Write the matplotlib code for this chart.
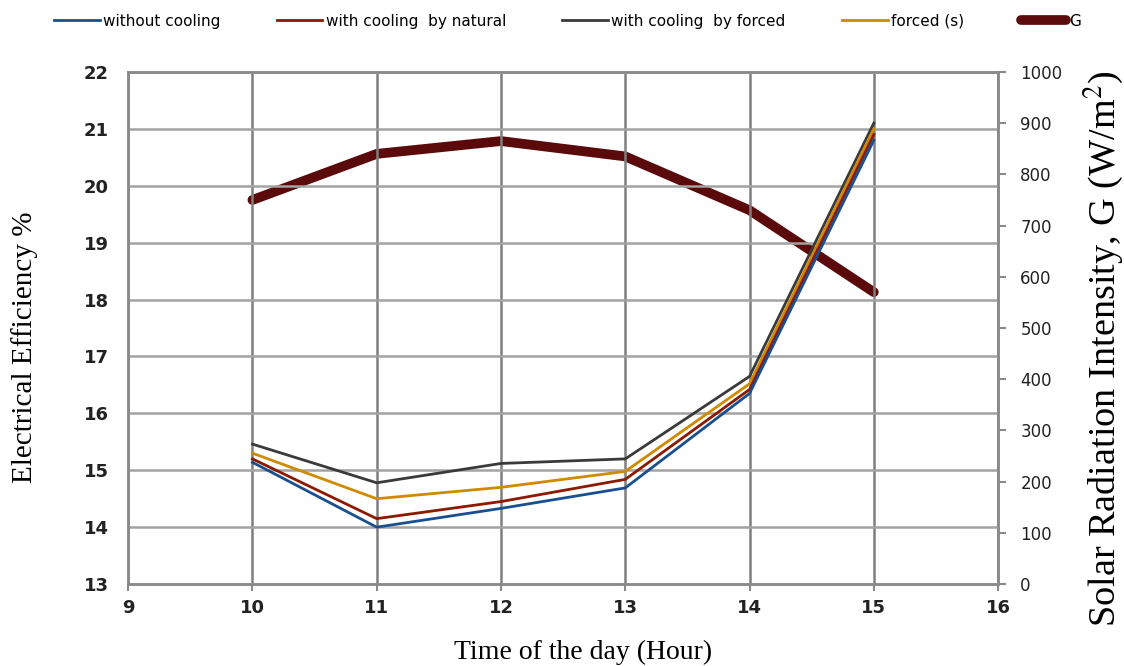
import numpy as np
import matplotlib
matplotlib.use('Agg')
import matplotlib.pyplot as plt

plt.rcParams['mathtext.fontset'] = 'stix'

hours = [10, 11, 12, 13, 14, 15]
without_cooling = [15.14, 14.00, 14.33, 14.69, 16.35, 20.80]
natural = [15.20, 14.15, 14.45, 14.84, 16.42, 20.90]
forced = [15.46, 14.78, 15.12, 15.20, 16.65, 21.10]
forced_s = [15.30, 14.50, 14.70, 14.98, 16.52, 21.00]
radiation = [750, 840, 865, 835, 730, 570]

grid_col = '#8a8a8a'

fig = plt.figure(figsize=(11.24, 6.66), dpi=100, facecolor='white')
ax = fig.add_axes([0.114, 0.123, 0.774, 0.769])
ax2 = ax.twinx()

ax.plot(hours, forced, color='#3a3a3a', lw=2, label='with cooling  by forced', zorder=3)
ax.plot(hours, forced_s, color='#d08a00', lw=2, label='forced (s)', zorder=3)
ax.plot(hours, natural, color='#8b1a00', lw=2, label='with cooling  by natural', zorder=3)
ax.plot(hours, without_cooling, color='#1a4f8f', lw=2, label='without cooling', zorder=3)
ax2.plot(hours, radiation, color='#5a0a0a', lw=7, solid_capstyle='round', label='G')

ax.set_xlim(9, 16)
ax.set_ylim(13, 22)
ax.set_xticks(range(9, 17))
ax.set_yticks(range(13, 23))
ax2.set_ylim(0, 1000)
ax2.set_yticks(range(0, 1001, 100))
ax.set_zorder(ax2.get_zorder() + 1)
ax.patch.set_visible(False)

ax.grid(True, axis='y', color='#a3a3a3', lw=1.8)
ax.grid(True, axis='x', color='#7f7f7f', lw=1.8)
for a in (ax, ax2):
    for s in a.spines.values():
        s.set_color(grid_col)
        s.set_linewidth(1.8)
ax.tick_params(axis='y', length=0, labelsize=13, pad=14)
ax.tick_params(axis='x', length=5, width=1.5, color=grid_col, labelsize=13, pad=6)
ax2.tick_params(axis='y', length=6, width=1.5, color=grid_col, labelsize=12, pad=10)
for lab in ax.get_xticklabels() + ax.get_yticklabels():
    lab.set_fontweight('bold')
    lab.set_color('#222222')
for lab in ax2.get_yticklabels():
    lab.set_color('#222222')

# axis titles placed as figure text
fig.text(0.519, 0.021, 'Time of the day (Hour)', family='Liberation Serif', fontsize=20,
         ha='center', va='center')
fig.text(0.0222, 0.479, 'Electrical Efficiency %', family='Liberation Serif', fontsize=21,
         ha='center', va='center', rotation=90)
fig.text(0.981, 0.476, 'Solar Radiation Intensity, G (W/m$^2$)', family='Liberation Serif',
         fontsize=27.5, ha='center', va='center', rotation=90)

h1, l1 = ax.get_legend_handles_labels()
h2, l2 = ax2.get_legend_handles_labels()
order = [3, 2, 0, 1]
handles = [h1[i] for i in order] + h2
labels = [l1[i] for i in order] + l2
fig.legend(handles, labels, loc='upper center', bbox_to_anchor=(0.505, 1.0), ncol=5,
           frameon=False, fontsize=11, handlelength=3.0, columnspacing=3.7,
           handletextpad=0.2)

fig.savefig('out.png', dpi=100)
